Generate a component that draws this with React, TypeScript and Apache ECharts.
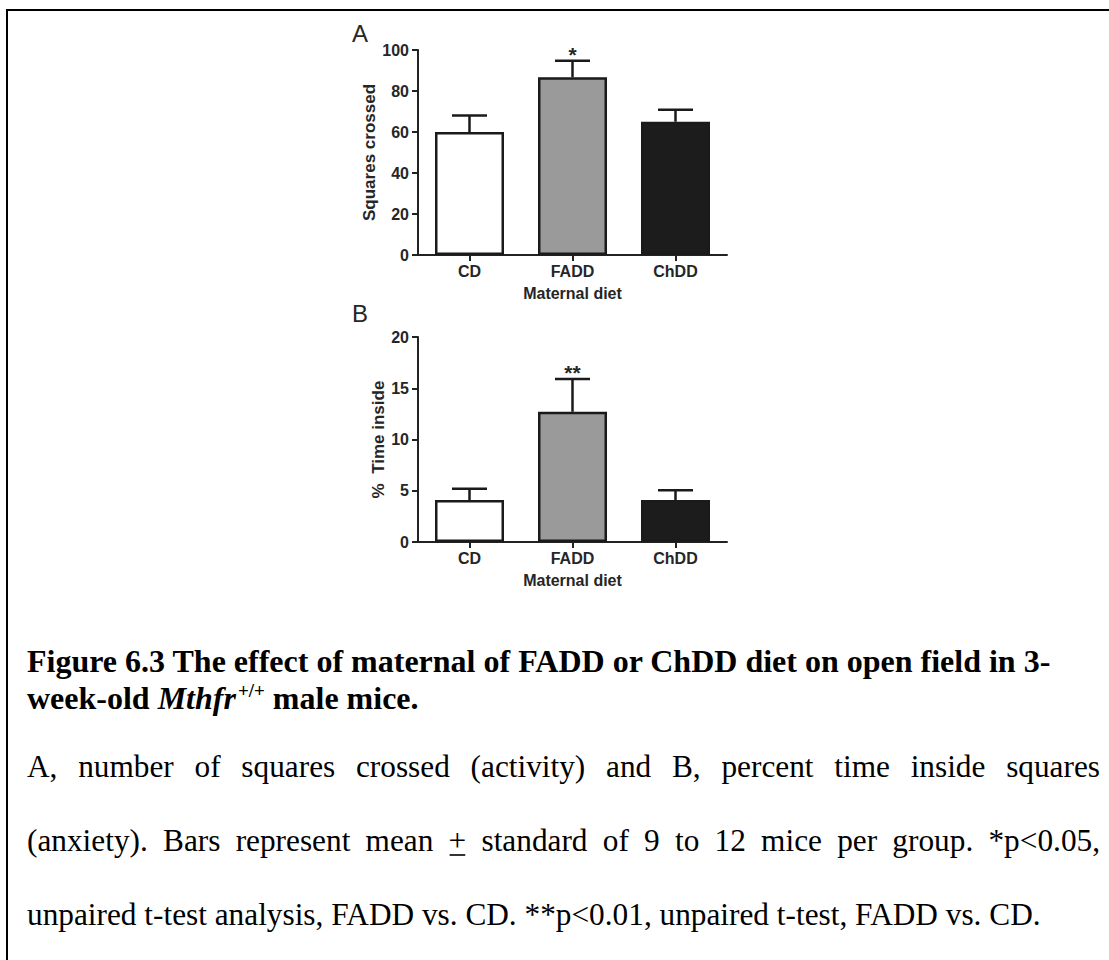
import React, { useEffect, useRef } from "react";
import * as echarts from "echarts";

// ---------- data ----------
const categories = ["CD", "FADD", "ChDD"];
const squaresMean = [60, 86.7, 65];
const squaresSem = [8, 8, 5.9];
const squaresSig = ["", "*", ""];
const timeMean = [4.1, 12.7, 4.1];
const timeSem = [1.1, 3.2, 0.95];
const timeSig = ["", "**", ""];
const barColors = ["#ffffff", "#9a9a9a", "#1c1c1c"];
const squaresAxis = [0, 100, 20]; // min, max, interval
const timeAxis = [0, 20, 5];
const panelLetters = ["A", "B"];
const yNames = ["Squares crossed", "%  Time inside"];
const xName = "Maternal diet";

const titleLine1 = "Figure 6.3 The effect of maternal of FADD or ChDD diet on open field in 3-";
const titleLine2Parts = ["week-old ", "Mthfr", "+/+", " male mice."];
const bodyLines = [
  "A, number of squares crossed (activity) and B, percent time inside squares",
  "(anxiety). Bars represent mean + standard of 9 to 12 mice per group. *p<0.05,",
  "unpaired t-test analysis, FADD vs. CD. **p<0.01, unpaired t-test, FADD vs. CD.",
];

const INK = "#262626";
const SANS = "'Liberation Sans', Arial, sans-serif";
const SERIF = "'Liberation Serif', 'Times New Roman', serif";

function errorRender(sig: string[]) {
  return (params: any, api: any) => {
    const i = api.value(0);
    const mean = api.value(1);
    const hi = api.value(2);
    const base = api.coord([i, mean]);
    const top = api.coord([i, hi]);
    const half = api.size([1, 0])[0] * 0.17;
    const st = { stroke: "#1a1a1a", lineWidth: 2.5 };
    const children: any[] = [
      { type: "line", shape: { x1: base[0], y1: base[1], x2: top[0], y2: top[1] }, style: st },
      { type: "line", shape: { x1: top[0] - half, y1: top[1], x2: top[0] + half, y2: top[1] }, style: st },
    ];
    const s = sig[params.dataIndex];
    if (s) {
      children.push({
        type: "text",
        x: top[0],
        y: top[1] + 4,
        style: {
          text: s,
          align: "center",
          verticalAlign: "bottom",
          textAlign: "center",
          textVerticalAlign: "bottom",
          font: `bold 21px ${SANS}`,
          fill: INK,
        },
      });
    }
    return { type: "group", children };
  };
}

function panel(idx: number, means: number[], sems: number[], sig: string[]) {
  return {
    bar: {
      type: "bar",
      xAxisIndex: idx,
      yAxisIndex: idx,
      barWidth: "67%",
      data: means.map((v, i) => ({
        value: v,
        itemStyle: { color: barColors[i], borderColor: "#1a1a1a", borderWidth: 2.5 },
      })),
      z: 2,
    },
    err: {
      type: "custom",
      xAxisIndex: idx,
      yAxisIndex: idx,
      renderItem: errorRender(sig),
      encode: { x: 0, y: [1, 2] },
      data: means.map((v, i) => [i, v, v + sems[i]]),
      z: 3,
    },
  };
}

function makeTextEl(text: string, x: number, y: number, font: string, align = "left", fill = "#000") {
  return {
    type: "text",
    x,
    y,
    style: {
      text,
      font,
      fill,
      align,
      verticalAlign: "middle",
      textAlign: align,
      textVerticalAlign: "middle",
    },
  };
}

export default function App() {
  const ref = useRef<HTMLDivElement>(null);
  useEffect(() => {
    document.body.style.margin = "0";
    const chart = echarts.init(ref.current!, undefined, { renderer: "svg" });
    const ctx = document.createElement("canvas").getContext("2d")!;
    const measure = (t: string, f: string) => {
      ctx.font = f;
      return ctx.measureText(t).width;
    };

    const pA = panel(0, squaresMean, squaresSem, squaresSig);
    const pB = panel(1, timeMean, timeSem, timeSig);

    const axisLine = { show: true, lineStyle: { color: "#222", width: 2 } };
    const axisTick = { show: true, length: 6, lineStyle: { color: "#222", width: 2 } };

    const yAxisOf = (idx: number, ax: number[]) => ({
      type: "value",
      gridIndex: idx,
      min: ax[0],
      max: ax[1],
      interval: ax[2],
      splitLine: { show: false },
      axisLine,
      axisTick,
      axisLabel: { color: INK, fontFamily: SANS, fontWeight: "bold", fontSize: 16, margin: 9 },
      name: yNames[idx],
      nameLocation: "middle",
      nameGap: idx === 0 ? 34 : 28,
      nameTextStyle: { color: INK, fontFamily: SANS, fontWeight: "bold", fontSize: 17 },
    });
    const xAxisOf = (idx: number) => ({
      type: "category",
      gridIndex: idx,
      data: categories,
      axisLine,
      axisTick: { ...axisTick, alignWithLabel: true },
      axisLabel: { color: INK, fontFamily: SANS, fontWeight: "bold", fontSize: 16, margin: 8 },
      name: xName,
      nameLocation: "middle",
      nameGap: 30,
      nameTextStyle: { color: INK, fontFamily: SANS, fontWeight: "bold", fontSize: 16 },
    });

    // ----- caption & frame graphics -----
    const g: any[] = [];
    g.push({ type: "line", shape: { x1: 6, y1: 10, x2: 1109, y2: 10 }, style: { stroke: "#000", lineWidth: 2 } });
    g.push({ type: "line", shape: { x1: 7, y1: 9, x2: 7, y2: 960 }, style: { stroke: "#000", lineWidth: 2 } });
    g.push(makeTextEl(panelLetters[0], 360, 33, `24px ${SANS}`, "center", INK));
    g.push(makeTextEl(panelLetters[1], 360, 313, `24px ${SANS}`, "center", INK));

    const X0 = 27;
    const X1 = 1100;
    const tfs = 32;
    const tFont = `bold ${tfs}px ${SERIF}`;
    const tItal = `italic bold ${tfs}px ${SERIF}`;
    const supFont = `bold 19px ${SERIF}`;
    g.push(makeTextEl(titleLine1, X0, 672 - tfs * 0.33, tFont));
    let cx = X0;
    const t2y = 708.5 - tfs * 0.33;
    g.push(makeTextEl(titleLine2Parts[0], cx, t2y, tFont));
    cx += measure(titleLine2Parts[0], tFont);
    g.push(makeTextEl(titleLine2Parts[1], cx, t2y, tItal));
    cx += measure(titleLine2Parts[1], tItal) + 2;
    g.push(makeTextEl(titleLine2Parts[2], cx, 690, supFont));
    cx += measure(titleLine2Parts[2], supFont);
    g.push(makeTextEl(titleLine2Parts[3], cx, t2y, tFont));

    const bfs = 31.3;
    const bFont = `${bfs}px ${SERIF}`;
    const baselines = [777, 851, 925];
    bodyLines.forEach((line, li) => {
      const yy = baselines[li] - bfs * 0.33;
      if (li === bodyLines.length - 1) {
        g.push(makeTextEl(line, X0, yy, bFont));
        return;
      }
      const words = line.split(" ");
      const widths = words.map((w) => measure(w, bFont));
      const total = widths.reduce((a, b) => a + b, 0);
      const gap = (X1 - X0 - total) / (words.length - 1);
      let x = X0;
      words.forEach((w, wi) => {
        g.push(makeTextEl(w, x, yy, bFont));
        if (w === "+") {
          g.push({
            type: "line",
            shape: { x1: x + 1, y1: baselines[li] + 4, x2: x + widths[wi] - 1, y2: baselines[li] + 4 },
            style: { stroke: "#000", lineWidth: 1.6 },
          });
        }
        x += widths[wi] + gap;
      });
    });

    chart.setOption({
      animation: false,
      backgroundColor: "#ffffff",
      grid: [
        { left: 418, top: 50, width: 309, height: 205 },
        { left: 418, top: 337, width: 309, height: 205 },
      ],
      xAxis: [xAxisOf(0), xAxisOf(1)],
      yAxis: [yAxisOf(0, squaresAxis), yAxisOf(1, timeAxis)],
      series: [pA.bar, pA.err, pB.bar, pB.err],
      graphic: g,
    });
    return () => chart.dispose();
  }, []);
  return <div ref={ref} style={{ position: "absolute", left: 0, top: 0, width: 1109, height: 960 }} />;
}
